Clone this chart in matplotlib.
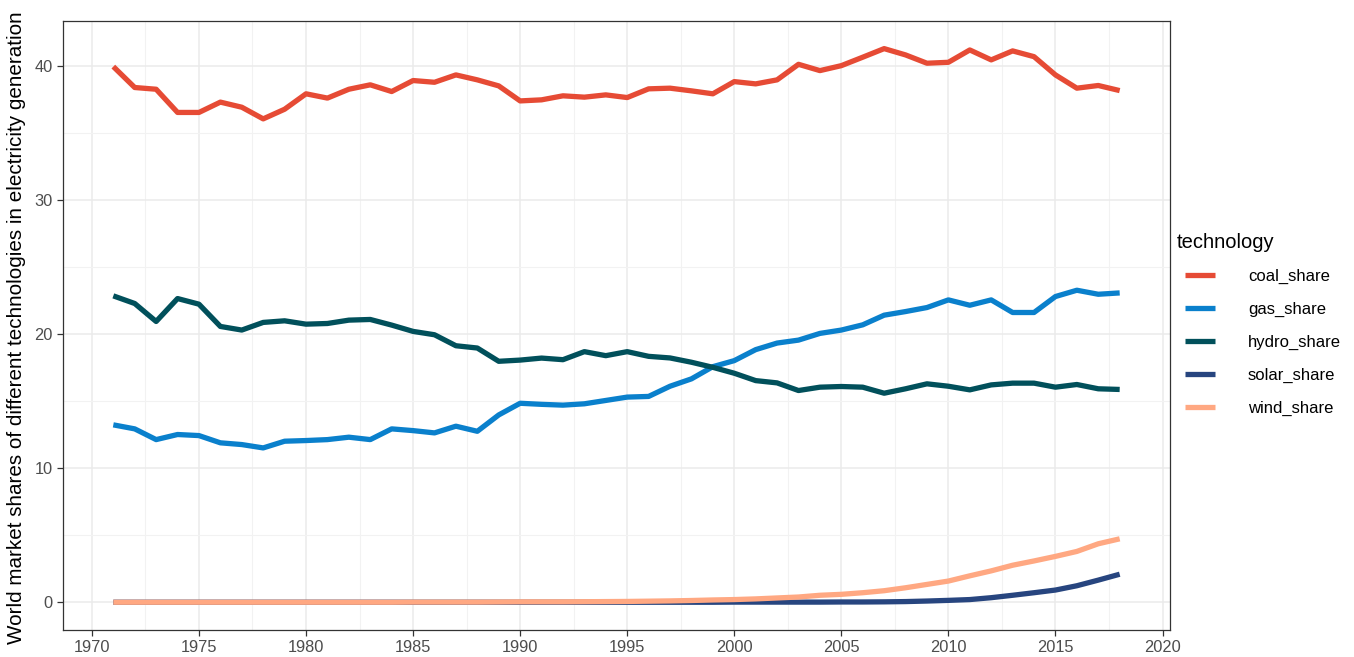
import numpy as np
import matplotlib.pyplot as plt
from matplotlib.ticker import MultipleLocator

plt.rcParams['font.family'] = ['Liberation Sans', 'DejaVu Sans']

years = np.arange(1971, 2019)

coal_share = [39.95, 38.39, 38.26, 36.53, 36.53, 37.30, 36.92, 36.05, 36.77, 37.92,
              37.60, 38.26, 38.59, 38.09, 38.91, 38.78, 39.33, 38.96, 38.51, 37.39,
              37.47, 37.77, 37.67, 37.84, 37.64, 38.29, 38.34, 38.14, 37.92, 38.83,
              38.66, 38.96, 40.12, 39.65, 40.02, 40.65, 41.29, 40.82, 40.20, 40.27,
              41.19, 40.45, 41.12, 40.69, 39.33, 38.34, 38.54, 38.16]
gas_share = [13.23, 12.93, 12.13, 12.51, 12.43, 11.89, 11.76, 11.51, 12.01, 12.06,
             12.13, 12.31, 12.13, 12.93, 12.80, 12.63, 13.13, 12.75, 13.97, 14.84,
             14.76, 14.70, 14.80, 15.05, 15.30, 15.35, 16.11, 16.66, 17.57, 18.02,
             18.84, 19.33, 19.55, 20.05, 20.30, 20.69, 21.41, 21.68, 21.98, 22.55,
             22.15, 22.55, 21.61, 21.61, 22.80, 23.27, 22.97, 23.07]
hydro_share = [22.85, 22.28, 20.94, 22.65, 22.23, 20.57, 20.30, 20.87, 20.99, 20.74,
               20.79, 21.04, 21.09, 20.67, 20.20, 19.95, 19.13, 18.96, 17.97, 18.06,
               18.21, 18.09, 18.69, 18.39, 18.69, 18.34, 18.22, 17.90, 17.52, 17.08,
               16.53, 16.36, 15.79, 16.04, 16.09, 16.04, 15.59, 15.92, 16.29, 16.11,
               15.84, 16.21, 16.34, 16.34, 16.04, 16.24, 15.92, 15.87]
solar_share = [0.0, 0.0, 0.0, 0.0, 0.0, 0.0, 0.0, 0.0, 0.0, 0.0,
               0.0, 0.0, 0.0, 0.0, 0.0, 0.0, 0.0, 0.0, 0.0, 0.0,
               0.0, 0.0, 0.0, 0.0, 0.0, 0.0, 0.0, 0.0, 0.0, 0.01,
               0.01, 0.01, 0.01, 0.01, 0.02, 0.02, 0.03, 0.05, 0.09, 0.14,
               0.20, 0.34, 0.52, 0.71, 0.91, 1.23, 1.65, 2.09]
wind_share = [0.0, 0.0, 0.0, 0.0, 0.0, 0.0, 0.0, 0.0, 0.0, 0.0,
              0.0, 0.0, 0.0, 0.0, 0.01, 0.01, 0.01, 0.01, 0.02, 0.03,
              0.03, 0.03, 0.04, 0.05, 0.06, 0.08, 0.10, 0.13, 0.17, 0.20,
              0.25, 0.32, 0.39, 0.52, 0.59, 0.71, 0.86, 1.08, 1.33, 1.58,
              1.97, 2.34, 2.76, 3.08, 3.42, 3.79, 4.36, 4.73]

series = ["coal_share", "gas_share", "hydro_share", "solar_share", "wind_share"]
values = [coal_share, gas_share, hydro_share, solar_share, wind_share]
colors = ["#E64B35", "#0A80CC", "#01505B", "#27457F", "#FFA882"]

fig = plt.figure(figsize=(13.54, 6.57), dpi=100)
ax = fig.add_axes([63/1354, 1 - 630/657, (1170 - 63)/1354, (630 - 21)/657])

for name, vals, c in zip(series, values, colors):
    ax.plot(years, vals, color=c, lw=3.8, label=name, solid_capstyle='butt')

ax.set_xlim(1968.65, 2020.35)
ax.set_ylim(-2.07, 43.35)
ax.xaxis.set_major_locator(MultipleLocator(5))
ax.xaxis.set_minor_locator(MultipleLocator(2.5))
ax.yaxis.set_major_locator(MultipleLocator(10))
ax.yaxis.set_minor_locator(MultipleLocator(5))

ax.grid(which='major', color='#EBEBEB', lw=1.1)
ax.grid(which='minor', color='#F2F2F2', lw=0.8)
ax.set_axisbelow(True)
ax.tick_params(which='minor', length=0)
ax.tick_params(which='major', length=4, width=0.9, color='#333333',
               labelcolor='#4D4D4D', labelsize=11.8)
for s in ax.spines.values():
    s.set_color('#333333')
    s.set_linewidth(0.9)

fig.text(0.0125, (1 - 328/657), "World market shares of different technologies in electricity generation",
         rotation=90, ha='center', va='center', fontsize=14.9, color='black')

fig.text(1177/1354, 1 - 243/657, "technology", ha='left', va='center', fontsize=14.5)
leg = fig.legend(loc='upper left', bbox_to_anchor=(1178/1354, 1 - 262/657),
                 frameon=False, fontsize=12, handlelength=1.8, labelspacing=1.08,
                 handletextpad=2.0, borderaxespad=0)

fig.savefig("out.png", dpi=100)
